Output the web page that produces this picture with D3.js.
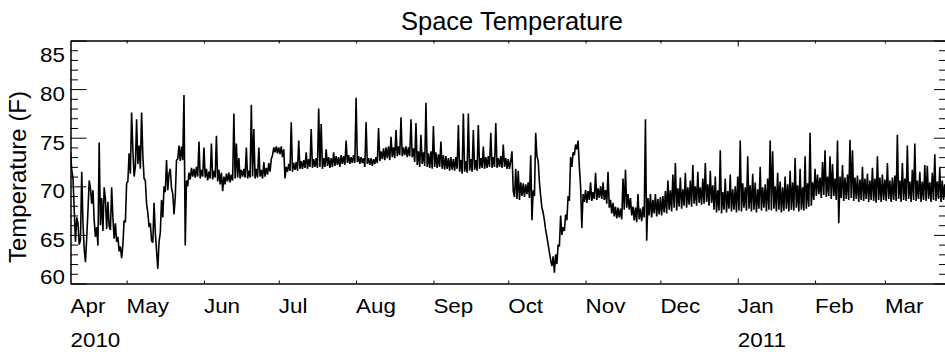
<!DOCTYPE html>
<html>
<head>
<meta charset="utf-8">
<script src="https://cdn.jsdelivr.net/npm/d3@7"></script>
<style>
  body { margin: 0; background: #fff; }
  svg { display: block; }
  text { font-family: "Liberation Sans", Arial, Helvetica, sans-serif; fill: #000; }
</style>
</head>
<body>
<svg id="chart" width="945" height="352"></svg>
<script>
// Space temperature, two readings per day (12 h apart) starting 2010-04-08 12:00 UTC.
const chartTitle = "Space Temperature";
const yAxisTitle = "Temperature (F)";
const firstReading = Date.UTC(2010, 3, 8, 12);
const axisEnd = Date.UTC(2011, 2, 27, 2, 24);
const stepHours = 12;

const temps = [
  73.5,71.7, 70.8,67.5, 64.3,66.8, 66.2,64.0, 64.5,71.5, 66.2,63.5, 62.2,64.7,
  67.5,70.6, 69.8,68.2, 69.6,66.5, 64.8,65.8, 63.9,74.5, 66.0,68.8, 65.4,69.9,
  68.7,65.6, 68.4,65.9, 65.5,69.9, 66.8,64.6, 66.2,64.3, 64.8,63.3, 63.8,62.6,
  64.0,66.5, 66.3,70.3, 70.5,73.4, 71.3,77.6, 73.8,71.0, 72.0,76.9, 72.3,74.2,
  71.8,77.6, 73.2,70.8, 70.6,68.2, 67.3,65.8, 66.2,64.4, 64.2,68.3, 65.2,63.4,
  61.5,64.3, 65.2,68.6, 66.8,70.0, 69.4,72.7, 69.6,71.3, 71.8,69.8, 69.2,67.1,
  68.9,72.7, 72.8,74.2, 72.6,74.1, 72.7,79.4, 63.9,70.6, 70.0,71.4, 70.7,71.9,
  71.0,71.8, 70.9,72.0, 71.0,74.6, 70.8,71.7, 71.0,74.0, 70.9,71.8, 70.6,71.5,
  70.8,74.4, 70.7,71.6, 70.9,75.2, 70.5,71.7, 70.2,71.4, 69.5,71.0, 70.2,71.3,
  70.5,71.4, 70.4,71.2, 70.6,77.5, 70.8,74.4, 70.9,72.9, 70.8,71.7, 71.0,71.8,
  70.9,74.0, 70.8,71.6, 70.9,78.4, 71.0,75.9, 70.8,71.8, 70.9,74.0, 71.0,71.7,
  70.8,72.5, 71.0,71.9, 71.2,72.4, 71.5,72.8, 73.2,74.0, 73.5,74.1, 73.4,74.0,
  73.3,74.1, 73.0,73.8, 70.8,72.0, 71.5,72.3, 71.6,76.6, 71.5,72.4, 71.7,72.5,
  71.6,74.7, 71.8,72.6, 71.8,72.7, 71.9,73.5, 71.8,72.8, 72.0,75.9, 71.9,72.8,
  72.0,72.9, 71.9,78.0, 72.0,76.4, 71.8,72.9, 72.0,73.8, 72.1,73.0, 71.9,72.9,
  72.0,73.5, 72.1,73.1, 72.2,73.0, 72.0,73.2, 72.3,73.1, 72.2,74.7, 72.4,73.2,
  72.3,73.0, 72.4,73.2, 72.4,79.1, 72.5,73.1, 72.3,73.0, 72.4,72.9, 72.0,76.6,
  72.3,72.9, 72.2,72.9, 72.1,72.8, 72.3,73.0, 72.4,76.0, 72.6,73.6, 72.8,73.9,
  72.7,74.0, 72.9,74.1, 72.7,75.1, 73.0,74.0, 72.9,75.8, 73.1,74.1, 73.2,77.1,
  73.1,74.0, 73.2,74.1, 73.0,74.0, 73.1,76.9, 73.0,73.9, 72.5,76.5, 72.2,73.6,
  72.0,75.3, 72.3,73.5, 72.1,78.6, 72.0,73.4, 71.9,73.6, 71.8,76.2, 72.0,73.5,
  71.9,73.3, 72.0,74.6, 71.8,73.2, 71.7,73.1, 71.8,72.9, 71.6,73.0, 71.7,72.8,
  71.6,73.0, 71.8,76.3, 71.5,72.7, 71.3,77.5, 71.5,72.6, 71.4,77.5, 71.6,72.8,
  71.5,75.8, 71.7,72.7, 71.6,76.3, 71.8,72.9, 71.9,74.1, 71.8,73.0, 71.9,73.1,
  72.0,75.5, 71.9,73.0, 72.0,76.5, 71.9,72.9, 72.0,73.1, 71.9,74.3, 72.0,72.9,
  71.8,72.8, 71.8,72.6, 73.6,69.5, 68.9,71.8, 68.7,71.6, 68.6,70.4, 69.0,70.3,
  68.9,70.2, 69.2,70.4, 68.8,73.2, 66.5,69.6, 69.0,75.5, 73.1,72.6, 70.4,69.0,
  67.8,67.3, 66.5,65.5, 64.8,64.0, 63.2,62.4, 61.8,62.8, 61.1,63.0, 62.0,64.0,
  63.8,67.0, 65.0,65.8, 65.4,67.1, 66.5,69.0, 68.5,73.0, 72.0,73.5, 73.2,74.3,
  73.8,74.7, 72.0,70.0, 65.7,69.2, 68.4,69.6, 68.3,69.5, 68.6,70.4, 68.5,69.4,
  68.7,71.4, 68.6,69.8, 68.8,70.0, 68.7,70.4, 68.6,69.6, 68.2,71.5, 67.8,68.6,
  67.2,68.3, 66.9,67.9, 66.7,67.8, 66.8,67.7, 66.6,70.8, 67.6,71.7, 67.8,69.2,
  67.6,68.8, 67.0,67.9, 66.5,67.8, 66.3,69.2, 66.6,67.7, 66.4,67.9, 66.8,76.9,
  64.4,68.8, 67.0,69.2, 66.8,68.6, 67.2,69.2, 66.9,68.7, 67.1,68.9, 67.0,69.0,
  67.3,69.5, 67.2,70.6, 67.6,69.6, 67.4,71.2, 67.8,72.4, 67.5,69.8, 67.9,70.9,
  67.7,69.7, 68.0,71.4, 67.8,69.9, 68.1,70.6, 67.9,72.2, 68.2,70.0, 68.0,71.5,
  68.3,69.9, 68.1,70.8, 68.2,72.4, 68.4,70.2, 68.0,71.6, 68.3,70.1, 67.6,71.0,
  67.3,69.6, 67.5,73.7, 67.2,69.4, 67.6,70.8, 67.3,69.5, 67.7,71.2, 67.4,69.7,
  67.6,70.0, 67.3,71.0, 67.5,74.7, 67.4,70.3, 67.8,69.9, 67.5,73.1, 67.7,70.1,
  67.4,71.3, 67.6,70.4, 67.3,69.7, 67.7,72.0, 67.5,69.9, 67.8,70.2, 67.4,70.8,
  67.6,74.7, 67.5,73.6, 67.7,70.0, 67.4,71.4, 67.6,70.5, 67.3,69.9, 67.5,71.0,
  67.7,70.2, 67.4,71.6, 67.6,70.4, 67.5,72.9, 67.8,70.1, 67.4,71.8, 67.6,69.9,
  67.5,73.1, 67.7,70.3, 67.9,75.5, 68.0,70.4, 68.6,71.8, 69.0,71.2, 69.2,70.9,
  68.8,72.5, 69.1,73.7, 68.9,71.0, 69.0,73.1, 68.7,72.3, 69.0,70.8, 68.6,74.7,
  66.2,71.0, 68.8,72.2, 68.5,70.9, 68.7,71.2, 68.6,74.8, 68.8,73.7, 68.5,70.9,
  68.7,71.1, 68.4,70.7, 68.6,72.0, 68.5,70.8, 68.7,71.3, 68.4,70.6, 68.6,71.9,
  68.5,70.8, 68.3,73.1, 68.6,70.9, 68.4,71.2, 68.6,70.7, 68.5,72.4, 68.7,70.6,
  68.4,70.9, 68.6,71.1, 68.5,75.3, 68.7,70.6, 68.4,72.4, 68.6,70.8, 68.5,74.2,
  68.7,70.5, 68.4,71.7, 68.6,74.4, 68.5,70.6, 68.7,71.5, 68.4,70.5, 68.6,72.2,
  68.5,72.1, 68.7,70.4, 68.4,71.4, 68.6,73.3, 68.5,70.5, 68.7,71.9, 68.4,70.6,
  68.6,70.2, 68.5,71.3, 68.6,70.3
];

const yMajorTicks = [60, 65, 70, 75, 80, 85];
const yMinorTicks = [61,62,63,64,66,67,68,69,71,72,73,74,76,77,78,79,81,82,83,84];
const monthLabels = ["Apr","May","Jun","Jul","Aug","Sep","Oct","Nov","Dec","Jan","Feb","Mar"];
const yearLabels = ["2010", "2011"];

const plot = { left: 70.5, right: 950, top: 40.5, bottom: 283.5 };
const textStretch = 1.12;

const svg = d3.select("#chart");

const x = d3.scaleUtc().domain([firstReading, axisEnd]).range([plot.left, plot.right]);
const y = d3.scaleLinear().domain([60, 85]).range([plot.bottom, plot.top]);

const series = temps.map((v, i) => ({ t: firstReading + i * stepHours * 3600e3, v }));

svg.append("defs").append("clipPath").attr("id", "plotClip")
  .append("rect")
  .attr("x", plot.left).attr("y", plot.top)
  .attr("width", plot.right - plot.left).attr("height", plot.bottom - plot.top);

// temperature trace
svg.append("path")
  .datum(series)
  .attr("clip-path", "url(#plotClip)")
  .attr("fill", "none")
  .attr("stroke", "#000")
  .attr("stroke-width", 1.6)
  .attr("stroke-linejoin", "bevel")
  .attr("d", d3.line().x(d => x(d.t)).y(d => y(d.v)));

function styleAxis(g) {
  g.selectAll("text").remove();
  g.select(".domain").attr("stroke", "#000").attr("stroke-width", 1);
  g.selectAll(".tick line").attr("stroke", "#000").attr("stroke-width", 1);
}

// left and right value axes, ticks pointing inward
svg.append("g").attr("transform", `translate(${plot.left},0)`)
  .call(d3.axisLeft(y).tickValues(yMajorTicks).tickSize(-16).tickSizeOuter(0)).call(styleAxis);
svg.append("g").attr("transform", `translate(${plot.left},0)`)
  .call(d3.axisLeft(y).tickValues(yMinorTicks).tickSize(-7.5).tickSizeOuter(0)).call(styleAxis);
svg.append("g").attr("transform", `translate(${plot.right},0)`)
  .call(d3.axisRight(y).tickValues(yMajorTicks).tickSize(-16).tickSizeOuter(0)).call(styleAxis);
svg.append("g").attr("transform", `translate(${plot.right},0)`)
  .call(d3.axisRight(y).tickValues(yMinorTicks).tickSize(-11).tickSizeOuter(0)).call(styleAxis);

// top and bottom time axes: month ticks, longer ticks at the new year
const monthTicks = d3.utcMonth.range(firstReading, axisEnd).filter(d => d.getUTCMonth() !== 0);
const yearTicks = d3.utcYear.range(firstReading, axisEnd);
svg.append("g").attr("transform", `translate(0,${plot.top})`)
  .call(d3.axisTop(x).tickValues(monthTicks).tickSize(-3).tickSizeOuter(0)).call(styleAxis);
svg.append("g").attr("transform", `translate(0,${plot.top})`)
  .call(d3.axisTop(x).tickValues(yearTicks).tickSize(-6).tickSizeOuter(0)).call(styleAxis);
svg.append("g").attr("transform", `translate(0,${plot.bottom})`)
  .call(d3.axisBottom(x).tickValues(monthTicks).tickSize(-3).tickSizeOuter(0)).call(styleAxis);
svg.append("g").attr("transform", `translate(0,${plot.bottom})`)
  .call(d3.axisBottom(x).tickValues(yearTicks).tickSize(-5).tickSizeOuter(0)).call(styleAxis);

function stretchedText(sel, px, py, anchor, size) {
  return sel.attr("transform", `translate(${px},${py}) scale(${textStretch},1)`)
    .attr("text-anchor", anchor).attr("font-size", size);
}

// value labels, the end labels kept inside the axis span
svg.append("g").selectAll("text").data(yMajorTicks).join("text")
  .each(function (v) {
    const base = Math.min(Math.max(y(v) + 12, 61.5), 283.5);
    stretchedText(d3.select(this), 65, base, "end", 20).text(v);
  });

// month labels start at each month boundary (or at the axis start)
const monthStarts = d3.utcMonth.floor(firstReading);
const labelDates = d3.utcMonth.range(monthStarts, axisEnd);
svg.append("g").selectAll("text").data(labelDates).join("text")
  .each(function (d, i) {
    stretchedText(d3.select(this), Math.max(x(d), plot.left), 313, "start", 20)
      .text(monthLabels[i]);
  });

const yearDates = [monthStarts, ...yearTicks];
svg.append("g").selectAll("text").data(yearDates).join("text")
  .each(function (d, i) {
    stretchedText(d3.select(this), Math.max(x(d), plot.left), 346.5, "start", 20)
      .text(yearLabels[i]);
  });

// titles
svg.append("text")
  .attr("transform", "translate(512,30)")
  .attr("text-anchor", "middle").attr("font-size", 25.5)
  .text(chartTitle);
svg.append("text")
  .attr("transform", "translate(26,177) rotate(-90)")
  .attr("text-anchor", "middle").attr("font-size", 24)
  .text(yAxisTitle);
</script>
</body>
</html>
